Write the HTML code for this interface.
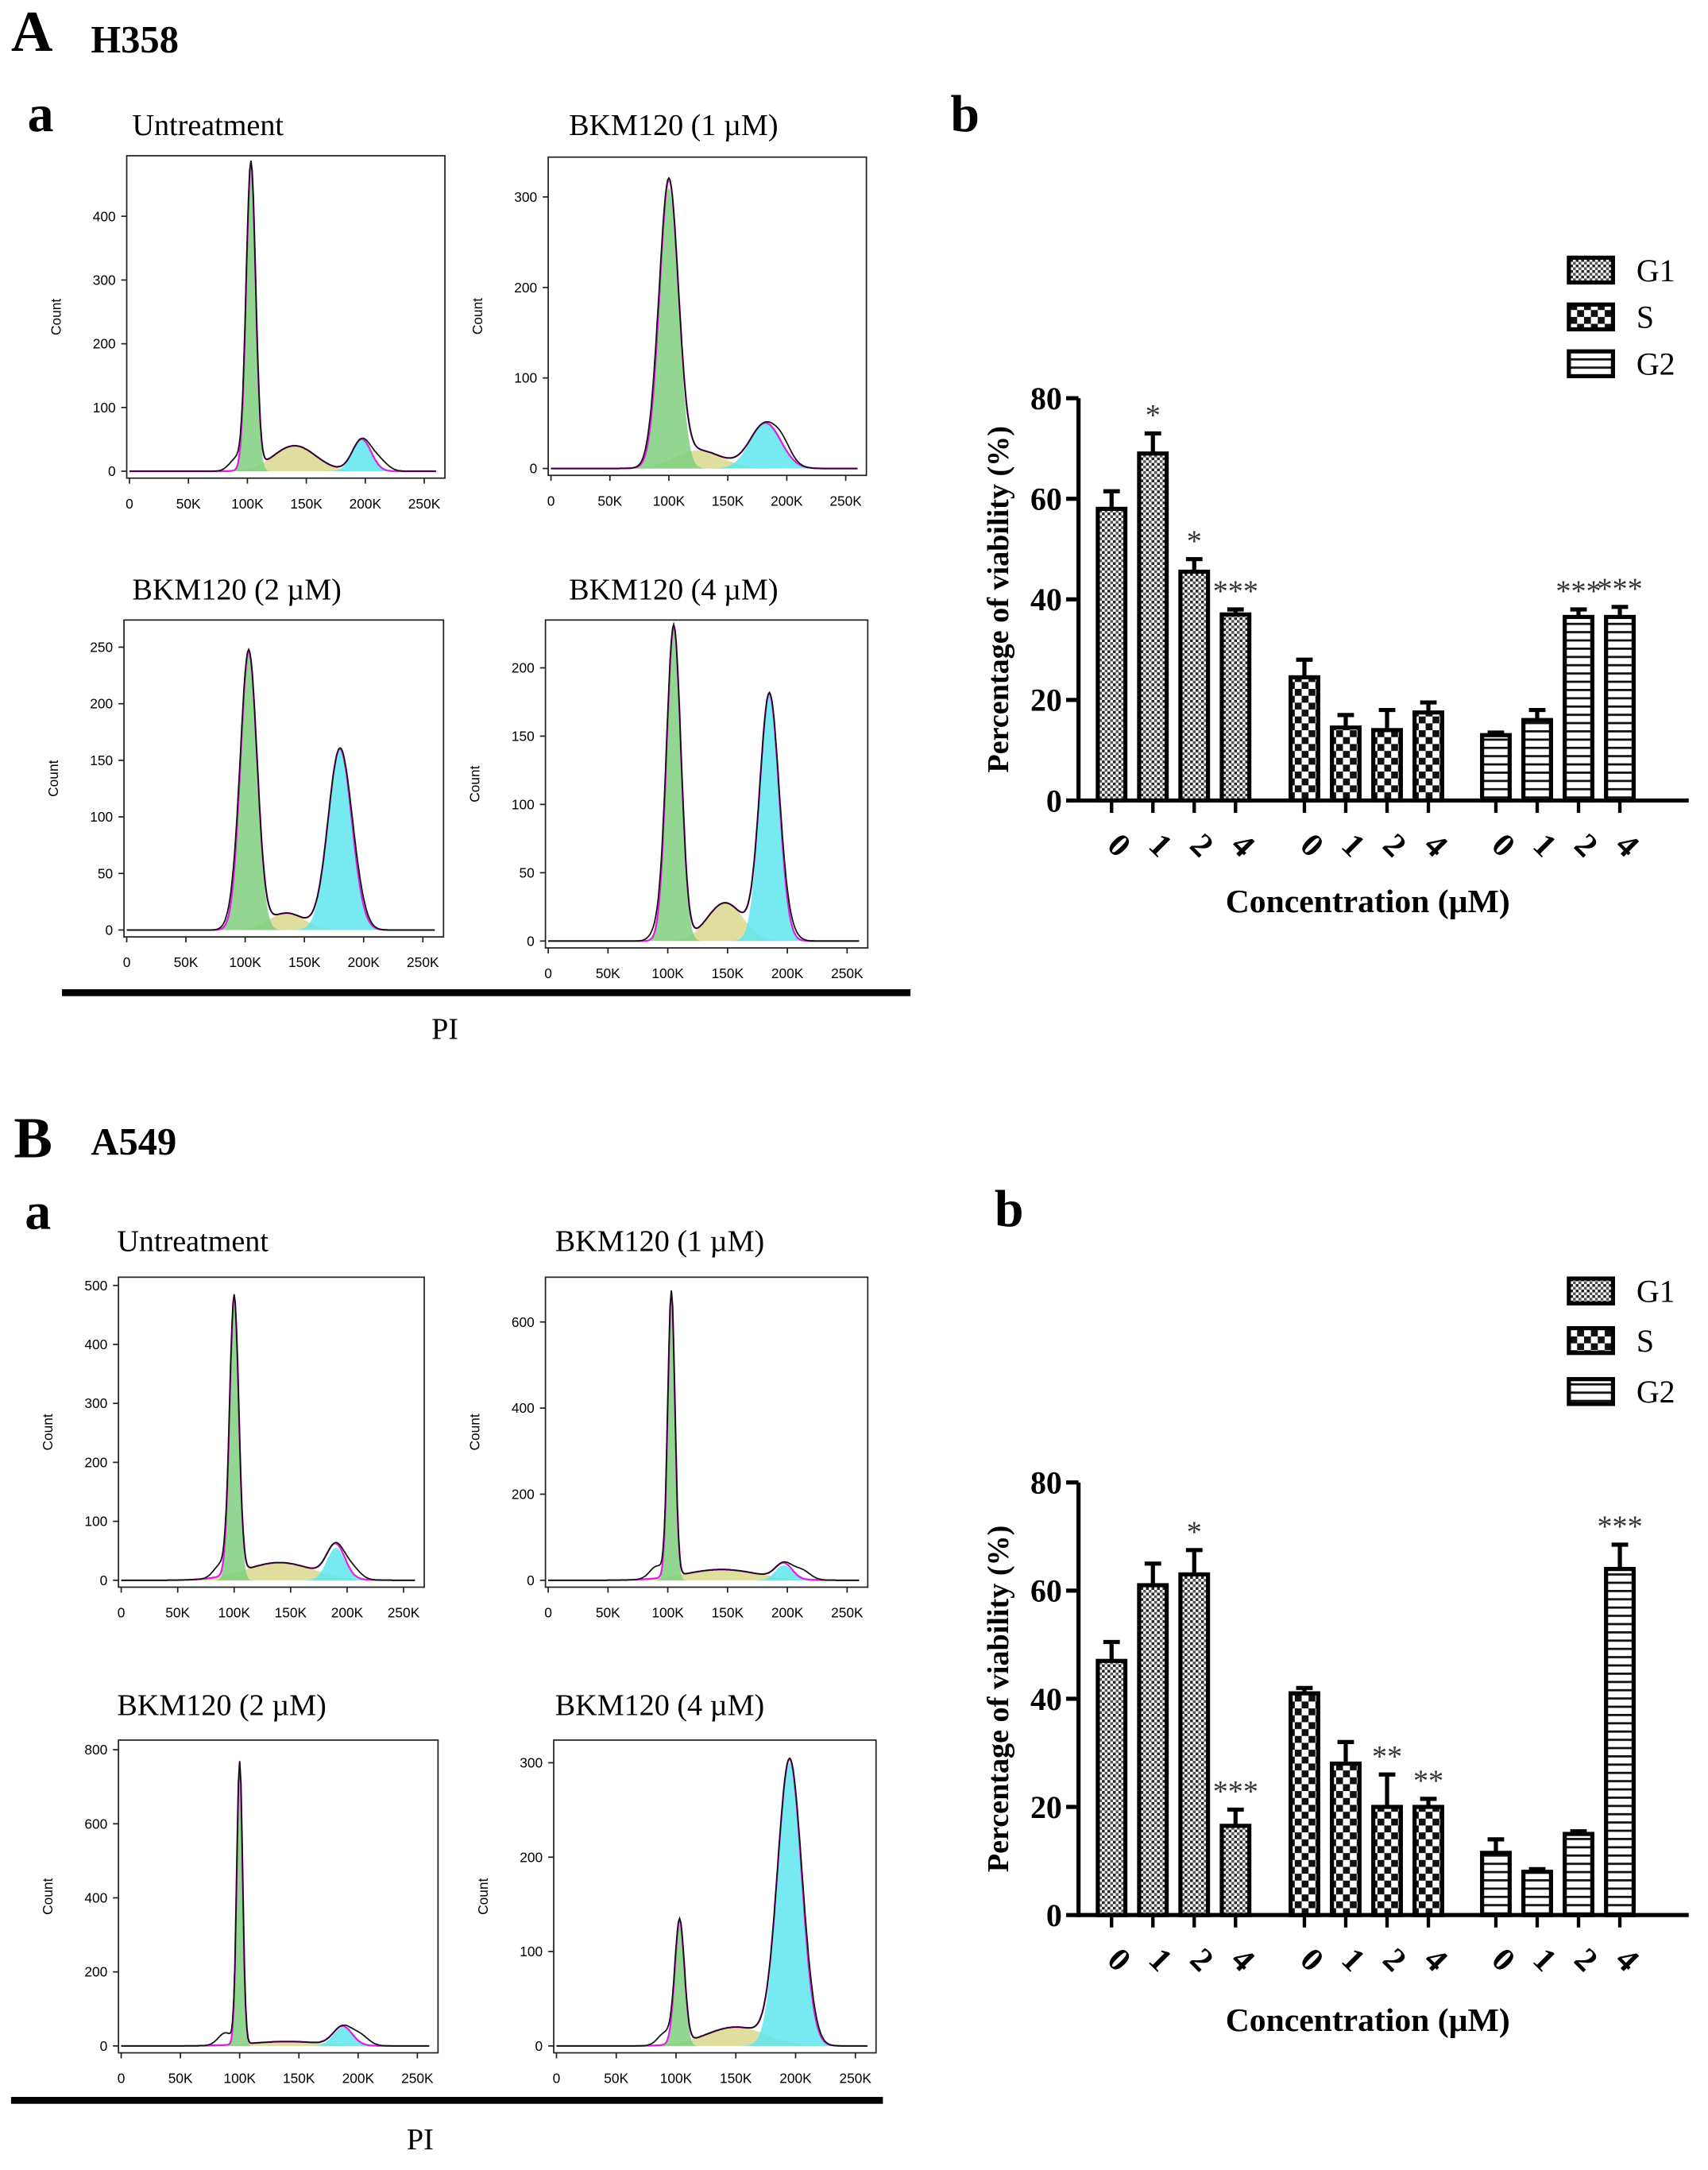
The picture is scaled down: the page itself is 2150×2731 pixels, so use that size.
<!DOCTYPE html>
<html><head><meta charset="utf-8"><style>
html,body{margin:0;padding:0;background:#fff}
svg{display:block}
.serif{font-family:"Liberation Serif",serif}
.sans{font-family:"Liberation Sans",sans-serif}
</style></head><body>
<svg id="fig" width="2150" height="2731" viewBox="0 0 1240 1575" xmlns="http://www.w3.org/2000/svg">
<defs>
<pattern id="pG1" width="4" height="4" patternUnits="userSpaceOnUse"><rect width="4" height="4" fill="#fff"/><rect width="2" height="2" fill="#222"/><rect x="2" y="2" width="2" height="2" fill="#555"/></pattern>
<pattern id="pS" width="10" height="10" patternUnits="userSpaceOnUse"><rect width="10" height="10" fill="#fff"/><rect width="5" height="5" fill="#111"/><rect x="5" y="5" width="5" height="5" fill="#111"/></pattern>
<pattern id="pG2" width="6" height="6" patternUnits="userSpaceOnUse"><rect width="6" height="6" fill="#fff"/><rect y="2" width="6" height="1.6" fill="#111"/></pattern>
</defs>
<g class="serif" font-weight="bold" fill="#000">
<text x="8" y="37" font-size="42">A</text>
<text x="66" y="38" font-size="28">H358</text>
<text x="20" y="95" font-size="38">a</text>
<text x="690" y="95" font-size="38">b</text>
<text x="10" y="840" font-size="42">B</text>
<text x="66" y="838" font-size="28">A549</text>
<text x="18" y="892" font-size="38">a</text>
<text x="722" y="890" font-size="38">b</text>
</g>
<rect x="45" y="718" width="616" height="5" fill="#000"/>
<text class="serif" x="323" y="754" font-size="22" text-anchor="middle">PI</text>
<rect x="8" y="1522" width="633" height="5" fill="#000"/>
<text class="serif" x="305" y="1560" font-size="22" text-anchor="middle">PI</text>
<g id="hists"></g>
<g id="bars"></g>
</svg>
<script>
// ---------- Histogram data (peak model parameters: mean K, sd K, height counts) ----------
const histTitles = ["Untreatment","BKM120 (1 \u00b5M)","BKM120 (2 \u00b5M)","BKM120 (4 \u00b5M)","Untreatment","BKM120 (1 \u00b5M)","BKM120 (2 \u00b5M)","BKM120 (4 \u00b5M)"];
const g1Peaks = [[103,4,480],[100,8,310],[103,7,245],[105,6,230],[100,4,470],[103,3,660],[100,2.5,760],[103,4,130]];
const sPeaks  = [[140,18,40],[125,20,20],[135,15,15],[148,15,28],[140,30,30],[145,30,25],[140,30,12],[150,25,20]];
const g2Peaks = [[197,8,50],[182,13,50],[180,10,160],[185,8,180],[190,8,55],[197,7,35],[187,8,50],[195,10,300]];
const yTickMax = [400,300,250,200,500,600,800,300];
const yTickStep = [100,100,50,50,100,200,200,100];
const yMaxVal = [495,344,274,235,514,704,826,324];
const xTicks = [0,50,100,150,200,250];
// layout boxes [left, top, right, bottom, titleX, titleY]
const boxes = [[92,113,323,347,96,98],[398,114,629,345,413,98],[90,450,322,680,96,435],[396,450,630,688,413,435],
               [86,927,308,1152,85,908],[396,927,630,1152,403,908],[86,1263,318,1490,85,1245],[402,1263,636,1490,403,1245]];
const NS="http://www.w3.org/2000/svg";
function mk(tag,attrs,parent){const e=document.createElementNS(NS,tag);for(const k in attrs)e.setAttribute(k,attrs[k]);parent.appendChild(e);return e;}
const H=document.getElementById('hists');
function gauss(x,p){return p[2]*Math.exp(-0.5*Math.pow((x-p[0])/p[1],2));}
for(let i=0;i<8;i++){
  const [L,T,R,B,tx,ty]=boxes[i];
  const g=mk('g',{},H);
  
  
  const t=mk('text',{x:tx,y:ty,'font-size':22,class:'serif'},g);t.textContent=histTitles[i];
  
  
  const y0=B-5;
  const xs=v=>L+2+(v/250)*(R-L-17);
  const ys=v=>y0-(v/yMaxVal[i])*(y0-T);
  const path=(f)=>{let d='';for(let k=0;k<=260;k+=1){d+=(k?'L':'M')+xs(k).toFixed(1)+','+ys(f(k)).toFixed(1);}return d;};
  const fill=(p,col)=>{const a=mk('path',{d:path(x=>gauss(x,p))+'Z',fill:col,stroke:'none','fill-opacity':0.85},g);return a;};
  let e;
  e=fill(sPeaks[i],'#d9d88e');
  e=fill(g1Peaks[i],'#7fcf7f');
  e=fill(g2Peaks[i],'#5fe6ee');
  const sum=x=>gauss(x,g1Peaks[i])+gauss(x,sPeaks[i])+gauss(x,g2Peaks[i]);
  e=mk('path',{d:path(sum),fill:'none',stroke:'#e020e0','stroke-width':1.3},g);
  
  const raw=x=>sum(x)+0.04*yMaxVal[i]*Math.exp(-0.5*Math.pow((x-(g1Peaks[i][0]-12))/6,2))+0.03*yMaxVal[i]*Math.exp(-0.5*Math.pow((x-(g2Peaks[i][0]+15))/7,2));
  e=mk('path',{d:path(raw),fill:'none',stroke:'#111','stroke-width':1},g);
  
  e=mk('rect',{x:L,y:T,width:R-L,height:B-T,fill:'none',stroke:'#222','stroke-width':1},g);
  
  for(let v=0;v<=yTickMax[i];v+=yTickStep[i]){
    mk('line',{x1:L-4,x2:L,y1:ys(v),y2:ys(v),stroke:'#222'},g);
    const tt=mk('text',{x:L-8,y:ys(v)+3.5,'font-size':10,'text-anchor':'end',class:'sans'},g);tt.textContent=v;
    
  }
  for(const v of xTicks){
    mk('line',{x1:xs(v),x2:xs(v),y1:B,y2:B+4,stroke:'#222'},g);
    const tt=mk('text',{x:xs(v),y:B+22,'font-size':10,'text-anchor':'middle',class:'sans'},g);tt.textContent=v?v+'K':'0';
    
  }
  const c=mk('text',{x:0,y:0,'font-size':10,'text-anchor':'middle',class:'sans',transform:`translate(${L-48},${(T+B)/2}) rotate(-90)`},g);c.textContent='Count';
  
}

// ---------- Bar chart data ----------
const concLabels = ["0","1","2","4"];
const seriesNames = ["G1","S","G2"];
const A_G1=[58,69,45.5,37], A_S=[24.5,14.5,14,17.5], A_G2=[13,16,36.5,36.5];
const A_G1err=[3.5,4,2.5,1], A_Serr=[3.5,2.5,4,2], A_G2err=[0.5,2,1.5,2];
const A_G1sig=["","*","*","***"], A_Ssig=["","","",""], A_G2sig=["","","***","***"];
const B_G1=[47,61,63,16.5], B_S=[41,28,20,20], B_G2=[11.5,8,15,64];
const B_G1err=[3.5,4,4.5,3], B_Serr=[1,4,6,1.5], B_G2err=[2.5,0.5,0.5,4.5];
const B_G1sig=["","","*","***"], B_Ssig=["","","**","**"], B_G2sig=["","","","***"];
const yTicks=[0,20,40,60,80];

const BG=document.getElementById('bars');
function barChart(name,vals,errs,sigs,ax,y0,y80,legY,titleY){
  const g=mk('g',{},BG);
  
  
  const ys=v=>y0-(v/80)*(y0-y80);
  const centers=[[807,837,867,897],[947,977,1007,1037],[1086,1116,1146,1176]];
  const pats=['url(#pG1)','url(#pS)','url(#pG2)'];
  for(let s=0;s<3;s++)for(let k=0;k<4;k++){
    const cx=centers[s][k],v=vals[s][k],e=errs[s][k];
    let el=mk('line',{x1:cx,x2:cx,y1:ys(v),y2:ys(v+e),stroke:'#000','stroke-width':3},g);
    
    mk('line',{x1:cx-6,x2:cx+6,y1:ys(v+e),y2:ys(v+e),stroke:'#000','stroke-width':3},g);
    el=mk('rect',{x:cx-10,y:ys(v),width:20,height:y0-ys(v),fill:pats[s],stroke:'#000','stroke-width':3},g);
    
    
    if(sigs[s][k]){
      el=mk('text',{x:cx,y:ys(v+e)-6,'font-size':22,'text-anchor':'middle',class:'serif',fill:'#333'},g);el.textContent=sigs[s][k];
      
    }
    mk('line',{x1:cx,x2:cx,y1:y0,y2:y0+9,stroke:'#000','stroke-width':2.5},g);
    el=mk('text',{x:0,y:0,'font-size':24,'font-weight':'bold',class:'serif','text-anchor':'middle',transform:`translate(${cx},${y0+38}) rotate(45)`},g);el.textContent=concLabels[k];
    
  }
  let el=mk('line',{x1:ax,x2:ax,y1:y80,y2:y0+1.5,stroke:'#000','stroke-width':3},g);
  
  el=mk('line',{x1:ax,x2:1226,y1:y0,y2:y0,stroke:'#000','stroke-width':3},g);
  
  for(const v of yTicks){
    mk('line',{x1:ax-9,x2:ax,y1:ys(v),y2:ys(v),stroke:'#000','stroke-width':3},g);
    el=mk('text',{x:ax-12,y:ys(v)+8,'font-size':23,'font-weight':'bold','text-anchor':'end',class:'serif'},g);el.textContent=v;
    
  }
  el=mk('text',{x:0,y:0,'font-size':22,'font-weight':'bold','text-anchor':'middle',class:'serif',transform:`translate(732,${(y0+y80)/2}) rotate(-90)`},g);
  el.textContent='Percentage of viability (%)';
  
  el=mk('text',{x:993,y:titleY,'font-size':24,'font-weight':'bold','text-anchor':'middle',class:'serif'},g);
  el.textContent='Concentration (\u00b5M)';
  
  for(let s=0;s<3;s++){
    const ly=legY[s];
    el=mk('rect',{x:1139,y:ly-9,width:32,height:18,fill:pats[s],stroke:'#000','stroke-width':3},g);
    
    el=mk('text',{x:1188,y:ly+8,'font-size':23,class:'serif'},g);el.textContent=seriesNames[s];
    
  }
}
barChart('bar-chart-h358',[A_G1,A_S,A_G2],[A_G1err,A_Serr,A_G2err],[A_G1sig,A_Ssig,A_G2sig],783,581,289,[196,230,264],662);
barChart('bar-chart-a549',[B_G1,B_S,B_G2],[B_G1err,B_Serr,B_G2err],[B_G1sig,B_Ssig,B_G2sig],783,1390,1076,[937,973,1010],1474);
</script>
</body></html>
